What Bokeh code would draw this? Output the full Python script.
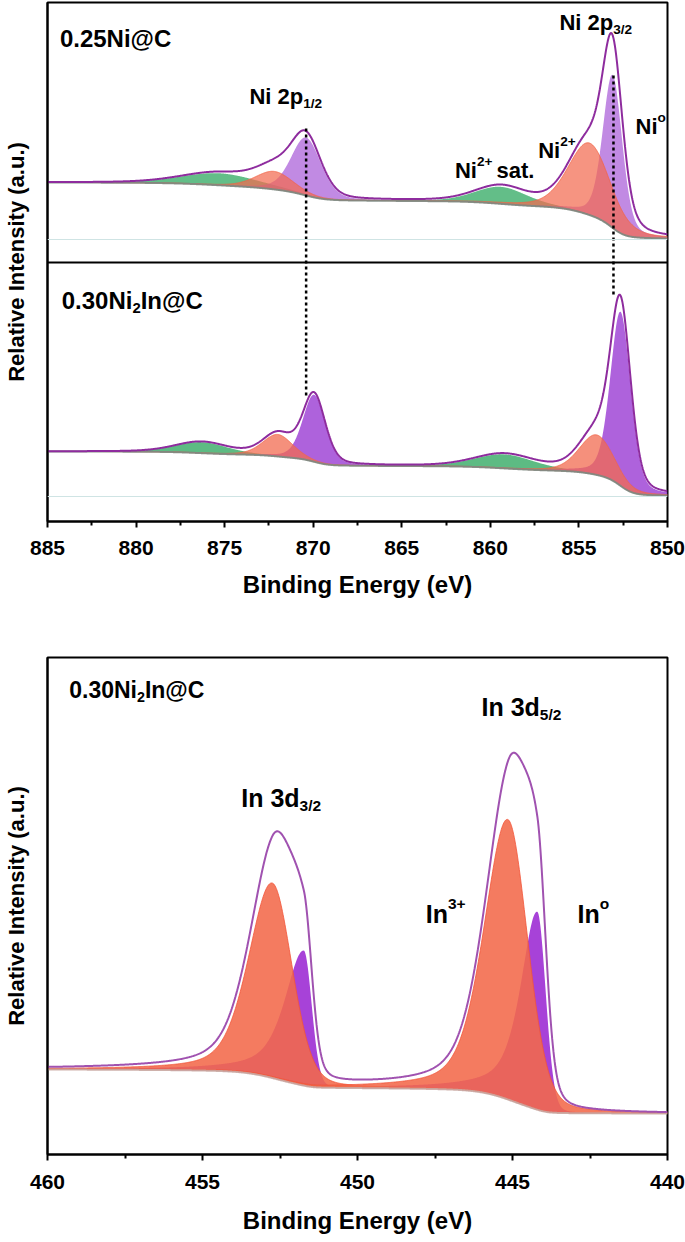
import numpy as np
from bokeh.plotting import figure
from bokeh.models import Range1d, FixedTicker, Span
from bokeh.layouts import column
from bokeh.embed import file_html
from bokeh.resources import INLINE
from bokeh.core.properties import value

FONT = "Liberation Sans"

# ---------------- data: Ni 2p fits ----------------
ni_xticks = [885, 880, 875, 870, 865, 860, 855, 850]
ni_minor = [882.5, 877.5, 872.5, 867.5, 862.5, 857.5, 852.5]

ni_kind = ["Ni0", "Ni2+", "sat", "Ni0", "Ni2+", "sat"]
# 0.25Ni@C
up_center = [853.1, 854.4, 859.4, 870.4, 872.2, 875.3]
up_height = [153, 72, 17, 58, 18, 12]
up_fwhm = [1.3, 2.8, 3.5, 2.0, 2.5, 5.0]
up_bg_high, up_bg_low = 57, 1
up_zero = 282
# 0.30Ni2In@C
lo_center = [852.65, 854.0, 859.2, 869.95, 872.0, 876.3]
lo_height = [174, 40, 14, 67, 22, 11]
lo_fwhm = [1.35, 2.3, 4.0, 1.5, 2.0, 3.5]
lo_bg_high, lo_bg_low = 45, 1
lo_zero = 25
ni_eta = 0.3
divider_y = 259

dash_E = [870.4, 853.05]
dash_top = [393, 446]
dash_bottom = [123, 225]

# ---------------- data: In 3d fits ----------------
in_xticks = [460, 455, 450, 445, 440]
in_minor = [457.5, 452.5, 447.5, 442.5]
in_kind = ["In3+", "In0", "In3+", "In0"]
in_center = [452.75, 451.73, 445.15, 444.2]
in_height = [195, 135, 280, 198]
in_hwhm_left = [0.9, 0.75, 0.9, 0.65]
in_hwhm_right = [0.75, 0.3, 0.75, 0.32]
in_eta_left = [0.4, 0.7, 0.4, 0.7]
in_eta_right = [0.2, 0.1, 0.2, 0.1]
in_bg_high, in_bg_low = 85, 41

# ---------------- labels ----------------
ni_labels = [
    (884.3, 483, [("0.25Ni@C", "n")], 24),
    (884.2, 221, [("0.30Ni", "n"), ("2", "sub"), ("In@C", "n")], 24),
    (856.1, 499, [("Ni 2p", "n"), ("3/2", "sub")], 22),
    (873.6, 425, [("Ni 2p", "n"), ("1/2", "sub")], 22),
    (862.0, 351, [("Ni", "n"), ("2+", "sup"), (4, "gap"), ("sat.", "n")], 22),
    (857.3, 371, [("Ni", "n"), ("2+", "sup")], 22),
    (851.8, 395, [("Ni", "n"), ("o", "sup")], 22),
]
in_labels = [
    (459.3, 465, [("0.30Ni", "n"), ("2", "sub"), ("In@C", "n")], 23),
    (446.0, 448, [("In 3d", "n"), ("5/2", "sub")], 25),
    (453.75, 357, [("In 3d", "n"), ("3/2", "sub")], 25),
    (447.8, 241, [("In", "n"), ("3+", "sup")], 25),
    (442.9, 241, [("In", "n"), ("o", "sup")], 25),
]

# ---------------- helpers ----------------
def pvoigt(E, c, h, hl, hr, el, er):
    d = E - c
    w = np.where(d >= 0, hl, hr)
    eta = np.where(d >= 0, el, er)
    x2 = (d / w) ** 2
    return h * ((1 - eta) * np.exp(-np.log(2) * x2) + eta / (1 + x2))


def shirley(E, total, b_high, b_low):
    cum = np.concatenate([[0.0], np.cumsum(0.5 * (total[1:] + total[:-1]) * np.diff(E))])
    return b_low + (b_high - b_low) * cum / cum[-1]


def build(E, centers, heights, hl, hr, el, er, bh, bl):
    comps = [pvoigt(E, c, h, a, b, e1, e2) for c, h, a, b, e1, e2 in zip(centers, heights, hl, hr, el, er)]
    total = np.sum(comps, axis=0)
    bg = shirley(E, total, bh, bl)
    return comps, bg, bg + total


W = {"0": 556, "1": 556, "2": 556, "3": 556, "5": 556, ".": 278, " ": 278, "/": 278, "+": 584,
     "N": 722, "i": 278, "I": 278, "n": 611, "d": 611, "p": 611, "s": 556, "a": 556, "t": 333,
     "o": 611, "@": 975, "C": 722}


def tw(s):
    return sum(W.get(ch, 556) for ch in s) / 1000.0


def rich(p, x, y, parts, size):
    off = 0.0
    for txt, kind in parts:
        if kind == "gap":
            off += txt
            continue
        fs = size if kind == "n" else size * 0.62
        dy = {"n": 0.0, "sub": 0.33 * size, "sup": -0.40 * size}[kind]
        p.text(x=[x], y=[y], text=[txt], x_offset=off, y_offset=dy,
               text_font=value(FONT), text_font_style="bold",
               text_font_size=f"{fs:.1f}px", text_baseline="middle",
               text_align="left", text_color="black")
        off += tw(txt) * fs


def style(p, ticks, minor, lab_standoff, title_standoff):
    p.grid.visible = False
    p.outline_line_color = "black"
    p.outline_line_width = 2
    p.background_fill_color = "white"
    p.border_fill_color = "white"
    xa = p.xaxis[0]
    xa.ticker = FixedTicker(ticks=ticks, minor_ticks=minor)
    xa.major_tick_out = 6
    xa.major_tick_in = 0
    xa.minor_tick_out = 4
    xa.minor_tick_in = 0
    xa.major_tick_line_width = 2
    xa.minor_tick_line_width = 2
    xa.axis_line_width = 2
    xa.major_label_text_font = FONT
    xa.major_label_text_font_style = "bold"
    xa.major_label_text_font_size = "21px"
    xa.major_label_text_color = "black"
    xa.major_label_standoff = lab_standoff
    xa.axis_label = "Binding Energy (eV)"
    xa.axis_label_text_font = FONT
    xa.axis_label_text_font_style = "bold"
    xa.axis_label_text_font_size = "24px"
    xa.axis_label_text_color = "black"
    xa.axis_label_standoff = title_standoff
    ya = p.yaxis[0]
    ya.ticker = FixedTicker(ticks=[])
    ya.major_tick_out = 0
    ya.major_tick_in = 0
    ya.minor_tick_out = 0
    ya.minor_tick_in = 0
    ya.major_label_text_font_size = "0px"
    ya.major_label_standoff = 0
    ya.axis_line_width = 2
    ya.axis_label = "Relative Intensity (a.u.)"
    ya.axis_label_text_font = FONT
    ya.axis_label_text_font_style = "bold"
    ya.axis_label_text_font_size = "22px"
    ya.axis_label_text_color = "black"
    ya.axis_label_standoff = 19


def draw(p, E, comps, kinds, bg, env, offset, fills, env_color, bg_color, red_edge):
    layer = {"sat": 0, "Ni0": 1, "In0": 1, "Ni2+": 2, "In3+": 2}
    order = sorted(range(len(comps)), key=lambda i: layer[kinds[i]])
    for i in order:
        col, alpha = fills[kinds[i]]
        p.varea(x=E, y1=offset + bg, y2=offset + bg + comps[i], fill_color=col, fill_alpha=alpha)
        if kinds[i] in ("Ni2+", "In3+"):
            p.line(E, offset + bg + comps[i], line_color=red_edge, line_width=1, line_alpha=0.8)
    p.line(E, offset + bg, line_color=bg_color, line_width=2, line_alpha=0.9)
    p.line(E, offset + env, line_color=env_color, line_width=2)


# ---------------- top figure: Ni 2p ----------------
ni_E = np.linspace(850, 885, 1401)
up = build(ni_E, up_center, up_height, [f / 2 for f in up_fwhm], [f / 2 for f in up_fwhm],
           [ni_eta] * 6, [ni_eta] * 6, up_bg_high, up_bg_low)
lo = build(ni_E, lo_center, lo_height, [f / 2 for f in lo_fwhm], [f / 2 for f in lo_fwhm],
           [ni_eta] * 6, [ni_eta] * 6, lo_bg_high, lo_bg_low)

p1 = figure(width=685, height=611, x_range=Range1d(885, 850), y_range=Range1d(0, 519),
            output_backend="svg", toolbar_location=None,
            min_border_left=47, min_border_right=18, min_border_top=2, min_border_bottom=90)
style(p1, ni_xticks, ni_minor, 13, 13)

for z in (up_zero, lo_zero):
    p1.add_layout(Span(location=z, dimension="width", line_color="#cfe4e4", line_width=1))

fills_up = {"Ni0": ("#a352d6", 0.68), "Ni2+": ("#f26b50", 0.72), "sat": ("#2fa860", 0.75)}
fills_lo = {"Ni0": ("#a047d6", 0.85), "Ni2+": ("#f26b50", 0.75), "sat": ("#2fa860", 0.78)}
draw(p1, ni_E, up[0], ni_kind, up[1], up[2], up_zero, fills_up, "#8e2c9e", "#7c8a82", "#f2664a")
draw(p1, ni_E, lo[0], ni_kind, lo[1], lo[2], lo_zero, fills_lo, "#8e2c9e", "#7c8a82", "#f2664a")

p1.add_layout(Span(location=divider_y, dimension="width", line_color="black", line_width=2))
p1.segment(x0=dash_E, y0=dash_top, x1=dash_E, y1=dash_bottom,
           line_color="black", line_width=2.5, line_dash="3 3")
for x, y, parts, size in ni_labels:
    rich(p1, x, y, parts, size)

# ---------------- bottom figure: In 3d ----------------
in_E = np.linspace(440, 460, 1001)
inn = build(in_E, in_center, in_height, in_hwhm_left, in_hwhm_right, in_eta_left, in_eta_right,
            in_bg_high, in_bg_low)

p2 = figure(width=685, height=631, x_range=Range1d(460, 440), y_range=Range1d(0, 497),
            output_backend="svg", toolbar_location=None,
            min_border_left=47, min_border_right=18, min_border_top=46, min_border_bottom=88)
style(p2, in_xticks, in_minor, 14, 15)

fills_in = {"In0": ("#a238d6", 0.95), "In3+": ("#f2694a", 0.88)}
draw(p2, in_E, inn[0], in_kind, inn[1], inn[2], 0, fills_in, "#a052b0", "#c9a8a2", "#f2553a")
for x, y, parts, size in in_labels:
    rich(p2, x, y, parts, size)

layout = column(p1, p2)
open("out.html", "w").write(file_html(layout, INLINE))
